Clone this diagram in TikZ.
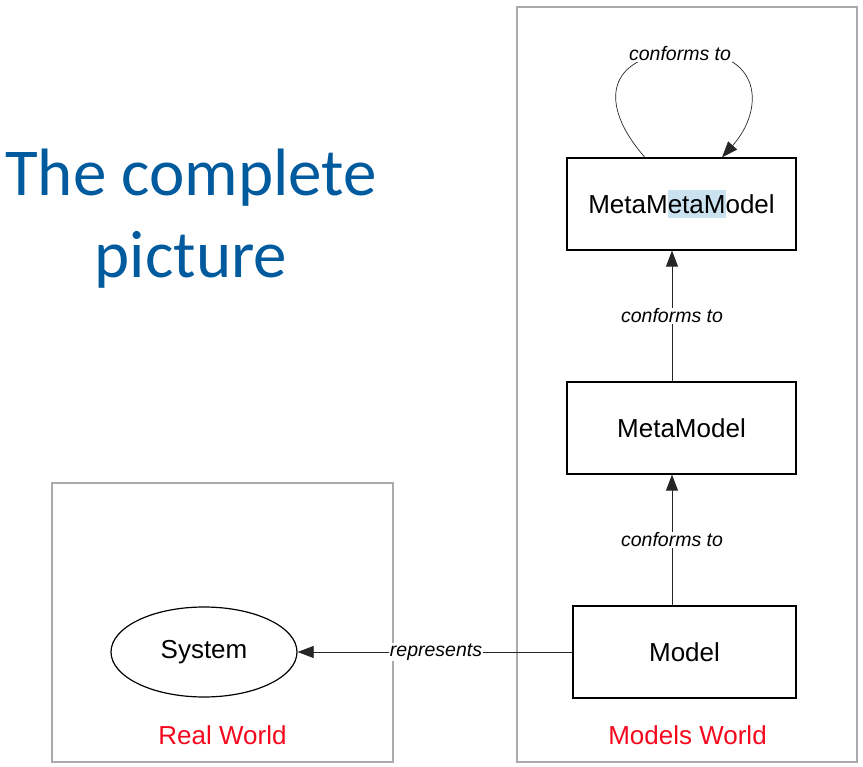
\documentclass[tikz,border=0pt]{standalone}
\usepackage{fontspec}
\setmainfont{Liberation Sans}
\newfontfamily\titlefont{Carlito}
\usetikzlibrary{arrows.meta,calc,shapes.geometric}
\definecolor{titleblue}{RGB}{0,90,158}
\definecolor{worldred}{RGB}{245,8,30}
\definecolor{framegray}{RGB}{170,170,170}
\definecolor{hlblue}{RGB}{202,225,240}
\newcommand{\hlbox}[1]{{\setlength{\fboxsep}{0pt}\colorbox{hlblue}{\rule[-0.16em]{0pt}{1.08em}#1}}}
\tikzset{
  world/.style={draw=framegray, line width=2.2pt, inner sep=0pt},
  modelbox/.style={draw=black, line width=1.2pt, minimum height=92pt, inner sep=0pt, font=\fontsize{26}{30}\selectfont},
  sysell/.style={draw=black, line width=1.2pt, ellipse, minimum width=186pt, minimum height=90pt, inner sep=0pt, font=\fontsize{26}{30}\selectfont},
  worldlbl/.style={text=worldred, font=\fontsize{26}{30}\selectfont, inner sep=0pt},
  conn/.style={draw=black!85, line width=0.7pt, -{Triangle[length=16pt,width=12pt]}},
  lbl/.style={fill=white, inner sep=1pt, font=\fontsize{19.5}{22}\selectfont\itshape},
}
\begin{document}
\begin{tikzpicture}[x=1pt,y=-1pt]
\useasboundingbox (0,0) rectangle (863,767);
% frames
\node[world, minimum width=341pt, minimum height=279pt] (real) at (222.5,622.5) {};
\node[world, minimum width=340pt, minimum height=755pt] (models) at (687,384.5) {};
\node[worldlbl] (reallbl) at (222.5,735) {Real World};
\node[worldlbl] (modelslbl) at (687.5,735) {Models World};
% title
\node[text=titleblue, align=center, font=\titlefont\fontsize{67}{82}\selectfont, inner sep=0pt] (title) at (191,219) {The complete\\picture};
% nodes
\node[modelbox, minimum width=229pt] (mmm) at (681.5,204) {MetaM\hlbox{etaM}odel};
\node[modelbox, minimum width=229pt] (mm) at (681.5,428) {MetaModel};
\node[modelbox, minimum width=223pt] (m) at (684.5,652) {Model};
\node[sysell] (sys) at (204,652) {System};
% connectors
\draw[conn] ([xshift=-9.5pt]mm.north) -- node[lbl] (l1) {conforms to} ([xshift=-9.5pt]mmm.south);
\draw[conn] ([xshift=-12.5pt]m.north) -- node[lbl] (l2) {conforms to} ([xshift=-9.5pt]mm.south);
\draw[conn] (m.west) -- (sys.east);
\coordinate (looptop) at (684,52);
\draw[conn] ([xshift=-36.5pt]mmm.north) .. controls +(-47,-53) and +(-79,2) .. (looptop) .. controls +(79,-3) and +(43,-48) .. ([xshift=40.5pt]mmm.north);
% labels
\node[lbl] (l3) at (436,652) {represents};
\node[lbl] (l4) at (680,54) {conforms to};
\end{tikzpicture}
\end{document}
